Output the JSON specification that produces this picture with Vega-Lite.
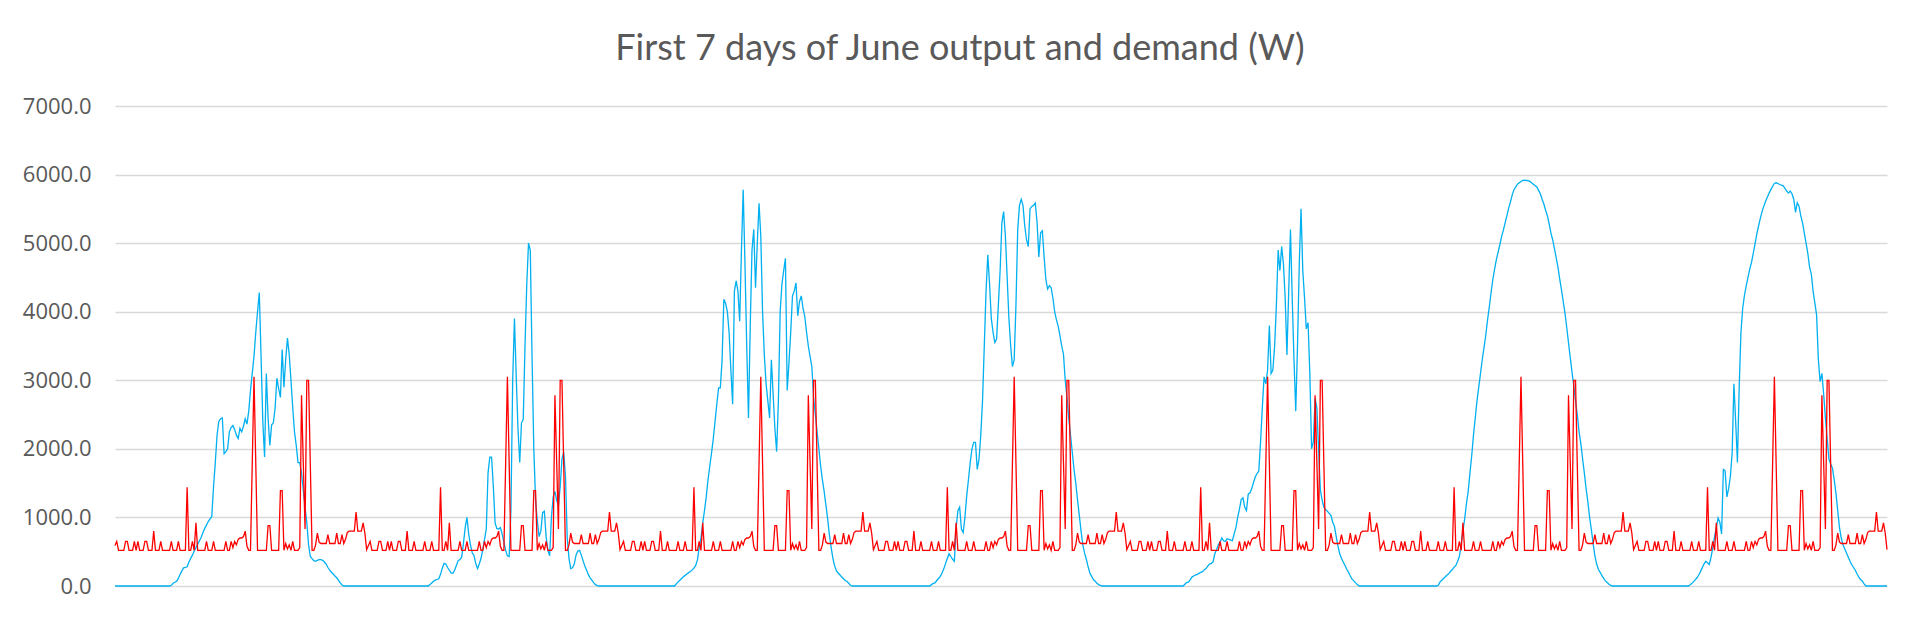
{
  "$schema": "https://vega.github.io/schema/vega-lite/v6.json",
  "width": 1772,
  "height": 480,
  "autosize": {"type": "none"},
  "padding": {"left": 115, "top": 106, "right": 33, "bottom": 33},
  "background": "white",
  "title": {
    "text": "First 7 days of June output and demand (W)",
    "font": "Lato",
    "fontSize": 36,
    "fontWeight": "normal",
    "color": "#595959",
    "anchor": "middle",
    "dx": -41,
    "offset": 27
  },
  "config": {
    "view": {"stroke": null},
    "axisY": {
      "domain": false,
      "ticks": false,
      "grid": true,
      "gridColor": "#d9d9d9",
      "gridWidth": 1.5,
      "labelFont": "Open Sans",
      "labelFontSize": 22,
      "labelColor": "#595959",
      "labelPadding": 24,
      "title": null
    }
  },
  "data": {
    "values": [
{"i":0,"o":0,"d":590},{"i":1,"o":0,"d":650},{"i":2,"o":0,"d":520},{"i":3,"o":0,"d":520},{"i":4,"o":0,"d":520},{"i":5,"o":0,"d":520},{"i":6,"o":0,"d":650},{"i":7,"o":0,"d":650},{"i":8,"o":0,"d":520},{"i":9,"o":0,"d":520},
{"i":10,"o":0,"d":520},{"i":11,"o":0,"d":650},{"i":12,"o":0,"d":520},{"i":13,"o":0,"d":650},{"i":14,"o":0,"d":520},{"i":15,"o":0,"d":520},{"i":16,"o":0,"d":520},{"i":17,"o":0,"d":650},{"i":18,"o":0,"d":650},{"i":19,"o":0,"d":520},
{"i":20,"o":0,"d":520},{"i":21,"o":0,"d":520},{"i":22,"o":0,"d":800},{"i":23,"o":0,"d":520},{"i":24,"o":0,"d":520},{"i":25,"o":0,"d":520},{"i":26,"o":0,"d":650},{"i":27,"o":0,"d":520},{"i":28,"o":0,"d":520},{"i":29,"o":0,"d":520},
{"i":30,"o":0,"d":520},{"i":31,"o":0,"d":520},{"i":32,"o":10,"d":650},{"i":33,"o":40,"d":520},{"i":34,"o":55,"d":520},{"i":35,"o":70,"d":520},{"i":36,"o":110,"d":650},{"i":37,"o":170,"d":520},{"i":38,"o":220,"d":520},{"i":39,"o":265,"d":520},
{"i":40,"o":270,"d":520},{"i":41,"o":280,"d":1440},{"i":42,"o":350,"d":520},{"i":43,"o":400,"d":520},{"i":44,"o":450,"d":650},{"i":45,"o":510,"d":520},{"i":46,"o":560,"d":920},{"i":47,"o":610,"d":520},{"i":48,"o":660,"d":520},{"i":49,"o":710,"d":520},
{"i":50,"o":780,"d":520},{"i":51,"o":840,"d":520},{"i":52,"o":890,"d":650},{"i":53,"o":940,"d":520},{"i":54,"o":980,"d":520},{"i":55,"o":1010,"d":520},{"i":56,"o":1450,"d":650},{"i":57,"o":1800,"d":520},{"i":58,"o":2200,"d":520},{"i":59,"o":2400,"d":520},
{"i":60,"o":2440,"d":520},{"i":61,"o":2450,"d":520},{"i":62,"o":1930,"d":520},{"i":63,"o":1960,"d":650},{"i":64,"o":2000,"d":520},{"i":65,"o":2250,"d":520},{"i":66,"o":2310,"d":650},{"i":67,"o":2340,"d":560},{"i":68,"o":2280,"d":650},{"i":69,"o":2200,"d":600},
{"i":70,"o":2150,"d":680},{"i":71,"o":2300,"d":700},{"i":72,"o":2250,"d":700},{"i":73,"o":2330,"d":720},{"i":74,"o":2440,"d":800},{"i":75,"o":2360,"d":580},{"i":76,"o":2550,"d":520},{"i":77,"o":2850,"d":520},{"i":78,"o":3100,"d":1790},{"i":79,"o":3350,"d":3050},
{"i":80,"o":3700,"d":1790},{"i":81,"o":4000,"d":520},{"i":82,"o":4280,"d":520},{"i":83,"o":3350,"d":520},{"i":84,"o":2400,"d":520},{"i":85,"o":1880,"d":520},{"i":86,"o":3100,"d":520},{"i":87,"o":2450,"d":880},{"i":88,"o":2050,"d":880},{"i":89,"o":2350,"d":520},
{"i":90,"o":2380,"d":520},{"i":91,"o":2600,"d":520},{"i":92,"o":3030,"d":520},{"i":93,"o":2880,"d":520},{"i":94,"o":2750,"d":1390},{"i":95,"o":3450,"d":1390},{"i":96,"o":2900,"d":520},{"i":97,"o":3300,"d":620},{"i":98,"o":3615,"d":540},{"i":99,"o":3380,"d":600},
{"i":100,"o":3000,"d":520},{"i":101,"o":2600,"d":650},{"i":102,"o":2250,"d":520},{"i":103,"o":2050,"d":520},{"i":104,"o":1800,"d":520},{"i":105,"o":1800,"d":560},{"i":106,"o":1650,"d":2780},{"i":107,"o":1400,"d":1800},{"i":108,"o":1150,"d":830},{"i":109,"o":925,"d":3000},
{"i":110,"o":600,"d":3000},{"i":111,"o":430,"d":1760},{"i":112,"o":400,"d":520},{"i":113,"o":370,"d":520},{"i":114,"o":360,"d":600},{"i":115,"o":375,"d":770},{"i":116,"o":385,"d":640},{"i":117,"o":385,"d":620},{"i":118,"o":375,"d":620},{"i":119,"o":350,"d":620},
{"i":120,"o":320,"d":620},{"i":121,"o":270,"d":750},{"i":122,"o":230,"d":620},{"i":123,"o":200,"d":620},{"i":124,"o":175,"d":620},{"i":125,"o":145,"d":620},{"i":126,"o":120,"d":770},{"i":127,"o":85,"d":620},{"i":128,"o":45,"d":620},{"i":129,"o":15,"d":750},
{"i":130,"o":0,"d":620},{"i":131,"o":0,"d":680},{"i":132,"o":0,"d":780},{"i":133,"o":0,"d":800},{"i":134,"o":0,"d":800},{"i":135,"o":0,"d":800},{"i":136,"o":0,"d":800},{"i":137,"o":0,"d":1080},{"i":138,"o":0,"d":800},{"i":139,"o":0,"d":800},
{"i":140,"o":0,"d":800},{"i":141,"o":0,"d":920},{"i":142,"o":0,"d":770},{"i":143,"o":0,"d":530},
{"i":144,"o":0,"d":590},{"i":145,"o":0,"d":650},{"i":146,"o":0,"d":520},{"i":147,"o":0,"d":520},{"i":148,"o":0,"d":520},{"i":149,"o":0,"d":520},{"i":150,"o":0,"d":650},{"i":151,"o":0,"d":650},{"i":152,"o":0,"d":520},{"i":153,"o":0,"d":520},
{"i":154,"o":0,"d":520},{"i":155,"o":0,"d":650},{"i":156,"o":0,"d":520},{"i":157,"o":0,"d":650},{"i":158,"o":0,"d":520},{"i":159,"o":0,"d":520},{"i":160,"o":0,"d":520},{"i":161,"o":0,"d":650},{"i":162,"o":0,"d":650},{"i":163,"o":0,"d":520},
{"i":164,"o":0,"d":520},{"i":165,"o":0,"d":520},{"i":166,"o":0,"d":800},{"i":167,"o":0,"d":520},{"i":168,"o":0,"d":520},{"i":169,"o":0,"d":520},{"i":170,"o":0,"d":650},{"i":171,"o":0,"d":520},{"i":172,"o":0,"d":520},{"i":173,"o":0,"d":520},
{"i":174,"o":0,"d":520},{"i":175,"o":0,"d":520},{"i":176,"o":0,"d":650},{"i":177,"o":0,"d":520},{"i":178,"o":0,"d":520},{"i":179,"o":20,"d":520},{"i":180,"o":45,"d":650},{"i":181,"o":70,"d":520},{"i":182,"o":85,"d":520},{"i":183,"o":95,"d":520},
{"i":184,"o":105,"d":520},{"i":185,"o":170,"d":1440},{"i":186,"o":260,"d":520},{"i":187,"o":330,"d":520},{"i":188,"o":320,"d":650},{"i":189,"o":270,"d":520},{"i":190,"o":230,"d":920},{"i":191,"o":190,"d":520},{"i":192,"o":185,"d":520},{"i":193,"o":230,"d":520},
{"i":194,"o":300,"d":520},{"i":195,"o":370,"d":520},{"i":196,"o":385,"d":650},{"i":197,"o":420,"d":520},{"i":198,"o":620,"d":520},{"i":199,"o":850,"d":520},{"i":200,"o":1000,"d":650},{"i":201,"o":760,"d":520},{"i":202,"o":600,"d":520},{"i":203,"o":485,"d":520},
{"i":204,"o":445,"d":520},{"i":205,"o":330,"d":520},{"i":206,"o":255,"d":520},{"i":207,"o":320,"d":650},{"i":208,"o":400,"d":520},{"i":209,"o":530,"d":520},{"i":210,"o":680,"d":650},{"i":211,"o":830,"d":560},{"i":212,"o":1650,"d":650},{"i":213,"o":1880,"d":600},
{"i":214,"o":1880,"d":680},{"i":215,"o":1450,"d":700},{"i":216,"o":920,"d":700},{"i":217,"o":840,"d":720},{"i":218,"o":830,"d":800},{"i":219,"o":850,"d":580},{"i":220,"o":760,"d":520},{"i":221,"o":640,"d":520},{"i":222,"o":520,"d":1790},{"i":223,"o":440,"d":3050},
{"i":224,"o":430,"d":1790},{"i":225,"o":1100,"d":520},{"i":226,"o":3000,"d":520},{"i":227,"o":3900,"d":520},{"i":228,"o":3060,"d":520},{"i":229,"o":2300,"d":520},{"i":230,"o":1800,"d":520},{"i":231,"o":2380,"d":880},{"i":232,"o":2430,"d":880},{"i":233,"o":3500,"d":520},
{"i":234,"o":4400,"d":520},{"i":235,"o":5000,"d":520},{"i":236,"o":4900,"d":520},{"i":237,"o":3350,"d":520},{"i":238,"o":2000,"d":1390},{"i":239,"o":1250,"d":1390},{"i":240,"o":950,"d":520},{"i":241,"o":720,"d":620},{"i":242,"o":800,"d":540},{"i":243,"o":1070,"d":600},
{"i":244,"o":1090,"d":520},{"i":245,"o":720,"d":650},{"i":246,"o":520,"d":520},{"i":247,"o":440,"d":520},{"i":248,"o":1000,"d":520},{"i":249,"o":1300,"d":560},{"i":250,"o":1380,"d":2780},{"i":251,"o":1250,"d":1800},{"i":252,"o":1170,"d":830},{"i":253,"o":1450,"d":3000},
{"i":254,"o":1850,"d":3000},{"i":255,"o":1950,"d":1760},{"i":256,"o":1600,"d":520},{"i":257,"o":700,"d":520},{"i":258,"o":400,"d":600},{"i":259,"o":255,"d":770},{"i":260,"o":265,"d":640},{"i":261,"o":320,"d":620},{"i":262,"o":450,"d":620},{"i":263,"o":510,"d":620},
{"i":264,"o":520,"d":620},{"i":265,"o":450,"d":750},{"i":266,"o":370,"d":620},{"i":267,"o":290,"d":620},{"i":268,"o":230,"d":620},{"i":269,"o":165,"d":620},{"i":270,"o":120,"d":770},{"i":271,"o":85,"d":620},{"i":272,"o":50,"d":620},{"i":273,"o":20,"d":750},
{"i":274,"o":5,"d":620},{"i":275,"o":0,"d":680},{"i":276,"o":0,"d":780},{"i":277,"o":0,"d":800},{"i":278,"o":0,"d":800},{"i":279,"o":0,"d":800},{"i":280,"o":0,"d":800},{"i":281,"o":0,"d":1080},{"i":282,"o":0,"d":800},{"i":283,"o":0,"d":800},
{"i":284,"o":0,"d":800},{"i":285,"o":0,"d":920},{"i":286,"o":0,"d":770},{"i":287,"o":0,"d":530},
{"i":288,"o":0,"d":590},{"i":289,"o":0,"d":650},{"i":290,"o":0,"d":520},{"i":291,"o":0,"d":520},{"i":292,"o":0,"d":520},{"i":293,"o":0,"d":520},{"i":294,"o":0,"d":650},{"i":295,"o":0,"d":650},{"i":296,"o":0,"d":520},{"i":297,"o":0,"d":520},
{"i":298,"o":0,"d":520},{"i":299,"o":0,"d":650},{"i":300,"o":0,"d":520},{"i":301,"o":0,"d":650},{"i":302,"o":0,"d":520},{"i":303,"o":0,"d":520},{"i":304,"o":0,"d":520},{"i":305,"o":0,"d":650},{"i":306,"o":0,"d":650},{"i":307,"o":0,"d":520},
{"i":308,"o":0,"d":520},{"i":309,"o":0,"d":520},{"i":310,"o":0,"d":800},{"i":311,"o":0,"d":520},{"i":312,"o":0,"d":520},{"i":313,"o":0,"d":520},{"i":314,"o":0,"d":650},{"i":315,"o":0,"d":520},{"i":316,"o":0,"d":520},{"i":317,"o":0,"d":520},
{"i":318,"o":0,"d":520},{"i":319,"o":30,"d":520},{"i":320,"o":60,"d":650},{"i":321,"o":85,"d":520},{"i":322,"o":110,"d":520},{"i":323,"o":135,"d":520},{"i":324,"o":155,"d":650},{"i":325,"o":175,"d":520},{"i":326,"o":195,"d":520},{"i":327,"o":210,"d":520},
{"i":328,"o":235,"d":520},{"i":329,"o":260,"d":1440},{"i":330,"o":300,"d":520},{"i":331,"o":380,"d":520},{"i":332,"o":560,"d":650},{"i":333,"o":700,"d":520},{"i":334,"o":920,"d":920},{"i":335,"o":1100,"d":520},{"i":336,"o":1300,"d":520},{"i":337,"o":1550,"d":520},
{"i":338,"o":1750,"d":520},{"i":339,"o":1940,"d":520},{"i":340,"o":2150,"d":650},{"i":341,"o":2400,"d":520},{"i":342,"o":2650,"d":520},{"i":343,"o":2890,"d":520},{"i":344,"o":2890,"d":650},{"i":345,"o":3300,"d":520},{"i":346,"o":4180,"d":520},{"i":347,"o":4120,"d":520},
{"i":348,"o":4000,"d":520},{"i":349,"o":3690,"d":520},{"i":350,"o":3150,"d":520},{"i":351,"o":2650,"d":650},{"i":352,"o":4300,"d":520},{"i":353,"o":4450,"d":520},{"i":354,"o":4300,"d":650},{"i":355,"o":3860,"d":560},{"i":356,"o":4900,"d":650},{"i":357,"o":5780,"d":600},
{"i":358,"o":4700,"d":680},{"i":359,"o":3500,"d":700},{"i":360,"o":2450,"d":700},{"i":361,"o":3800,"d":720},{"i":362,"o":4900,"d":800},{"i":363,"o":5200,"d":580},{"i":364,"o":4350,"d":520},{"i":365,"o":5000,"d":520},{"i":366,"o":5580,"d":1790},{"i":367,"o":5100,"d":3050},
{"i":368,"o":4000,"d":1790},{"i":369,"o":3370,"d":520},{"i":370,"o":2950,"d":520},{"i":371,"o":2700,"d":520},{"i":372,"o":2450,"d":520},{"i":373,"o":3300,"d":520},{"i":374,"o":2800,"d":520},{"i":375,"o":2300,"d":880},{"i":376,"o":1960,"d":880},{"i":377,"o":2700,"d":520},
{"i":378,"o":4000,"d":520},{"i":379,"o":4400,"d":520},{"i":380,"o":4600,"d":520},{"i":381,"o":4780,"d":520},{"i":382,"o":2850,"d":1390},{"i":383,"o":3250,"d":1390},{"i":384,"o":3700,"d":520},{"i":385,"o":4230,"d":620},{"i":386,"o":4300,"d":540},{"i":387,"o":4420,"d":600},
{"i":388,"o":3940,"d":520},{"i":389,"o":4150,"d":650},{"i":390,"o":4230,"d":520},{"i":391,"o":4050,"d":520},{"i":392,"o":3930,"d":520},{"i":393,"o":3700,"d":560},{"i":394,"o":3500,"d":2780},{"i":395,"o":3350,"d":1800},{"i":396,"o":3200,"d":830},{"i":397,"o":2750,"d":3000},
{"i":398,"o":2500,"d":3000},{"i":399,"o":2250,"d":1760},{"i":400,"o":2000,"d":520},{"i":401,"o":1750,"d":520},{"i":402,"o":1550,"d":600},{"i":403,"o":1380,"d":770},{"i":404,"o":1180,"d":640},{"i":405,"o":980,"d":620},{"i":406,"o":740,"d":620},{"i":407,"o":560,"d":620},
{"i":408,"o":400,"d":620},{"i":409,"o":290,"d":750},{"i":410,"o":220,"d":620},{"i":411,"o":190,"d":620},{"i":412,"o":160,"d":620},{"i":413,"o":130,"d":620},{"i":414,"o":105,"d":770},{"i":415,"o":80,"d":620},{"i":416,"o":65,"d":620},{"i":417,"o":40,"d":750},
{"i":418,"o":10,"d":620},{"i":419,"o":0,"d":680},{"i":420,"o":0,"d":780},{"i":421,"o":0,"d":800},{"i":422,"o":0,"d":800},{"i":423,"o":0,"d":800},{"i":424,"o":0,"d":800},{"i":425,"o":0,"d":1080},{"i":426,"o":0,"d":800},{"i":427,"o":0,"d":800},
{"i":428,"o":0,"d":800},{"i":429,"o":0,"d":920},{"i":430,"o":0,"d":770},{"i":431,"o":0,"d":530},
{"i":432,"o":0,"d":590},{"i":433,"o":0,"d":650},{"i":434,"o":0,"d":520},{"i":435,"o":0,"d":520},{"i":436,"o":0,"d":520},{"i":437,"o":0,"d":520},{"i":438,"o":0,"d":650},{"i":439,"o":0,"d":650},{"i":440,"o":0,"d":520},{"i":441,"o":0,"d":520},
{"i":442,"o":0,"d":520},{"i":443,"o":0,"d":650},{"i":444,"o":0,"d":520},{"i":445,"o":0,"d":650},{"i":446,"o":0,"d":520},{"i":447,"o":0,"d":520},{"i":448,"o":0,"d":520},{"i":449,"o":0,"d":650},{"i":450,"o":0,"d":650},{"i":451,"o":0,"d":520},
{"i":452,"o":0,"d":520},{"i":453,"o":0,"d":520},{"i":454,"o":0,"d":800},{"i":455,"o":0,"d":520},{"i":456,"o":0,"d":520},{"i":457,"o":0,"d":520},{"i":458,"o":0,"d":650},{"i":459,"o":0,"d":520},{"i":460,"o":0,"d":520},{"i":461,"o":0,"d":520},
{"i":462,"o":0,"d":520},{"i":463,"o":0,"d":520},{"i":464,"o":20,"d":650},{"i":465,"o":40,"d":520},{"i":466,"o":45,"d":520},{"i":467,"o":80,"d":520},{"i":468,"o":110,"d":650},{"i":469,"o":140,"d":520},{"i":470,"o":190,"d":520},{"i":471,"o":250,"d":520},
{"i":472,"o":330,"d":520},{"i":473,"o":400,"d":1440},{"i":474,"o":470,"d":520},{"i":475,"o":430,"d":520},{"i":476,"o":390,"d":650},{"i":477,"o":360,"d":520},{"i":478,"o":850,"d":920},{"i":479,"o":1100,"d":520},{"i":480,"o":1150,"d":520},{"i":481,"o":830,"d":520},
{"i":482,"o":780,"d":520},{"i":483,"o":1000,"d":520},{"i":484,"o":1310,"d":650},{"i":485,"o":1550,"d":520},{"i":486,"o":1800,"d":520},{"i":487,"o":2000,"d":520},{"i":488,"o":2095,"d":650},{"i":489,"o":2095,"d":520},{"i":490,"o":1700,"d":520},{"i":491,"o":1850,"d":520},
{"i":492,"o":2200,"d":520},{"i":493,"o":2700,"d":520},{"i":494,"o":3500,"d":520},{"i":495,"o":4300,"d":650},{"i":496,"o":4830,"d":520},{"i":497,"o":4400,"d":520},{"i":498,"o":3900,"d":650},{"i":499,"o":3700,"d":560},{"i":500,"o":3550,"d":650},{"i":501,"o":3600,"d":600},
{"i":502,"o":4100,"d":680},{"i":503,"o":4600,"d":700},{"i":504,"o":5300,"d":700},{"i":505,"o":5460,"d":720},{"i":506,"o":5100,"d":800},{"i":507,"o":4500,"d":580},{"i":508,"o":3900,"d":520},{"i":509,"o":3500,"d":520},{"i":510,"o":3200,"d":1790},{"i":511,"o":3300,"d":3050},
{"i":512,"o":4100,"d":1790},{"i":513,"o":5200,"d":520},{"i":514,"o":5550,"d":520},{"i":515,"o":5640,"d":520},{"i":516,"o":5550,"d":520},{"i":517,"o":5250,"d":520},{"i":518,"o":5050,"d":520},{"i":519,"o":4950,"d":880},{"i":520,"o":5500,"d":880},{"i":521,"o":5535,"d":520},
{"i":522,"o":5550,"d":520},{"i":523,"o":5585,"d":520},{"i":524,"o":5300,"d":520},{"i":525,"o":4800,"d":520},{"i":526,"o":5150,"d":1390},{"i":527,"o":5180,"d":1390},{"i":528,"o":4800,"d":520},{"i":529,"o":4470,"d":620},{"i":530,"o":4330,"d":540},{"i":531,"o":4380,"d":600},
{"i":532,"o":4350,"d":520},{"i":533,"o":4200,"d":650},{"i":534,"o":4000,"d":520},{"i":535,"o":3880,"d":520},{"i":536,"o":3790,"d":520},{"i":537,"o":3650,"d":560},{"i":538,"o":3500,"d":2780},{"i":539,"o":3380,"d":1800},{"i":540,"o":3000,"d":830},{"i":541,"o":2750,"d":3000},
{"i":542,"o":2450,"d":3000},{"i":543,"o":2200,"d":1760},{"i":544,"o":1950,"d":520},{"i":545,"o":1700,"d":520},{"i":546,"o":1500,"d":600},{"i":547,"o":1250,"d":770},{"i":548,"o":1030,"d":640},{"i":549,"o":800,"d":620},{"i":550,"o":600,"d":620},{"i":551,"o":480,"d":620},
{"i":552,"o":390,"d":620},{"i":553,"o":280,"d":750},{"i":554,"o":190,"d":620},{"i":555,"o":140,"d":620},{"i":556,"o":95,"d":620},{"i":557,"o":70,"d":620},{"i":558,"o":40,"d":770},{"i":559,"o":20,"d":620},{"i":560,"o":10,"d":620},{"i":561,"o":0,"d":750},
{"i":562,"o":0,"d":620},{"i":563,"o":0,"d":680},{"i":564,"o":0,"d":780},{"i":565,"o":0,"d":800},{"i":566,"o":0,"d":800},{"i":567,"o":0,"d":800},{"i":568,"o":0,"d":800},{"i":569,"o":0,"d":1080},{"i":570,"o":0,"d":800},{"i":571,"o":0,"d":800},
{"i":572,"o":0,"d":800},{"i":573,"o":0,"d":920},{"i":574,"o":0,"d":770},{"i":575,"o":0,"d":530},
{"i":576,"o":0,"d":590},{"i":577,"o":0,"d":650},{"i":578,"o":0,"d":520},{"i":579,"o":0,"d":520},{"i":580,"o":0,"d":520},{"i":581,"o":0,"d":520},{"i":582,"o":0,"d":650},{"i":583,"o":0,"d":650},{"i":584,"o":0,"d":520},{"i":585,"o":0,"d":520},
{"i":586,"o":0,"d":520},{"i":587,"o":0,"d":650},{"i":588,"o":0,"d":520},{"i":589,"o":0,"d":650},{"i":590,"o":0,"d":520},{"i":591,"o":0,"d":520},{"i":592,"o":0,"d":520},{"i":593,"o":0,"d":650},{"i":594,"o":0,"d":650},{"i":595,"o":0,"d":520},
{"i":596,"o":0,"d":520},{"i":597,"o":0,"d":520},{"i":598,"o":0,"d":800},{"i":599,"o":0,"d":520},{"i":600,"o":0,"d":520},{"i":601,"o":0,"d":520},{"i":602,"o":0,"d":650},{"i":603,"o":0,"d":520},{"i":604,"o":0,"d":520},{"i":605,"o":0,"d":520},
{"i":606,"o":0,"d":520},{"i":607,"o":0,"d":520},{"i":608,"o":25,"d":650},{"i":609,"o":50,"d":520},{"i":610,"o":55,"d":520},{"i":611,"o":90,"d":520},{"i":612,"o":130,"d":650},{"i":613,"o":145,"d":520},{"i":614,"o":160,"d":520},{"i":615,"o":170,"d":520},
{"i":616,"o":185,"d":520},{"i":617,"o":200,"d":1440},{"i":618,"o":210,"d":520},{"i":619,"o":235,"d":520},{"i":620,"o":255,"d":650},{"i":621,"o":290,"d":520},{"i":622,"o":320,"d":920},{"i":623,"o":330,"d":520},{"i":624,"o":350,"d":520},{"i":625,"o":470,"d":520},
{"i":626,"o":530,"d":520},{"i":627,"o":600,"d":520},{"i":628,"o":640,"d":650},{"i":629,"o":700,"d":520},{"i":630,"o":660,"d":520},{"i":631,"o":650,"d":520},{"i":632,"o":690,"d":650},{"i":633,"o":680,"d":520},{"i":634,"o":670,"d":520},{"i":635,"o":660,"d":520},
{"i":636,"o":760,"d":520},{"i":637,"o":850,"d":520},{"i":638,"o":1000,"d":520},{"i":639,"o":1120,"d":650},{"i":640,"o":1260,"d":520},{"i":641,"o":1285,"d":520},{"i":642,"o":1150,"d":650},{"i":643,"o":1100,"d":560},{"i":644,"o":1340,"d":650},{"i":645,"o":1360,"d":600},
{"i":646,"o":1420,"d":680},{"i":647,"o":1510,"d":700},{"i":648,"o":1590,"d":700},{"i":649,"o":1640,"d":720},{"i":650,"o":1675,"d":800},{"i":651,"o":2100,"d":580},{"i":652,"o":2600,"d":520},{"i":653,"o":3050,"d":520},{"i":654,"o":2950,"d":1790},{"i":655,"o":3150,"d":3050},
{"i":656,"o":3800,"d":1790},{"i":657,"o":3100,"d":520},{"i":658,"o":3150,"d":520},{"i":659,"o":3500,"d":520},{"i":660,"o":4100,"d":520},{"i":661,"o":4900,"d":520},{"i":662,"o":4600,"d":520},{"i":663,"o":4950,"d":880},{"i":664,"o":4700,"d":880},{"i":665,"o":4200,"d":520},
{"i":666,"o":3370,"d":520},{"i":667,"o":4300,"d":520},{"i":668,"o":5200,"d":520},{"i":669,"o":4200,"d":520},{"i":670,"o":3300,"d":1390},{"i":671,"o":2550,"d":1390},{"i":672,"o":3500,"d":520},{"i":673,"o":4700,"d":620},{"i":674,"o":5500,"d":540},{"i":675,"o":4600,"d":600},
{"i":676,"o":4200,"d":520},{"i":677,"o":3750,"d":650},{"i":678,"o":3840,"d":520},{"i":679,"o":3100,"d":520},{"i":680,"o":2000,"d":520},{"i":681,"o":2100,"d":560},{"i":682,"o":2740,"d":2780},{"i":683,"o":2600,"d":1800},{"i":684,"o":1985,"d":830},{"i":685,"o":1400,"d":3000},
{"i":686,"o":1250,"d":3000},{"i":687,"o":1150,"d":1760},{"i":688,"o":1110,"d":520},{"i":689,"o":1090,"d":520},{"i":690,"o":1060,"d":600},{"i":691,"o":1030,"d":770},{"i":692,"o":930,"d":640},{"i":693,"o":870,"d":620},{"i":694,"o":720,"d":620},{"i":695,"o":580,"d":620},
{"i":696,"o":470,"d":620},{"i":697,"o":400,"d":750},{"i":698,"o":350,"d":620},{"i":699,"o":300,"d":620},{"i":700,"o":245,"d":620},{"i":701,"o":200,"d":620},{"i":702,"o":145,"d":770},{"i":703,"o":100,"d":620},{"i":704,"o":75,"d":620},{"i":705,"o":45,"d":750},
{"i":706,"o":20,"d":620},{"i":707,"o":0,"d":680},{"i":708,"o":0,"d":780},{"i":709,"o":0,"d":800},{"i":710,"o":0,"d":800},{"i":711,"o":0,"d":800},{"i":712,"o":0,"d":800},{"i":713,"o":0,"d":1080},{"i":714,"o":0,"d":800},{"i":715,"o":0,"d":800},
{"i":716,"o":0,"d":800},{"i":717,"o":0,"d":920},{"i":718,"o":0,"d":770},{"i":719,"o":0,"d":530},
{"i":720,"o":0,"d":590},{"i":721,"o":0,"d":650},{"i":722,"o":0,"d":520},{"i":723,"o":0,"d":520},{"i":724,"o":0,"d":520},{"i":725,"o":0,"d":520},{"i":726,"o":0,"d":650},{"i":727,"o":0,"d":650},{"i":728,"o":0,"d":520},{"i":729,"o":0,"d":520},
{"i":730,"o":0,"d":520},{"i":731,"o":0,"d":650},{"i":732,"o":0,"d":520},{"i":733,"o":0,"d":650},{"i":734,"o":0,"d":520},{"i":735,"o":0,"d":520},{"i":736,"o":0,"d":520},{"i":737,"o":0,"d":650},{"i":738,"o":0,"d":650},{"i":739,"o":0,"d":520},
{"i":740,"o":0,"d":520},{"i":741,"o":0,"d":520},{"i":742,"o":0,"d":800},{"i":743,"o":0,"d":520},{"i":744,"o":0,"d":520},{"i":745,"o":0,"d":520},{"i":746,"o":0,"d":650},{"i":747,"o":0,"d":520},{"i":748,"o":0,"d":520},{"i":749,"o":0,"d":520},
{"i":750,"o":0,"d":520},{"i":751,"o":0,"d":520},{"i":752,"o":10,"d":650},{"i":753,"o":60,"d":520},{"i":754,"o":85,"d":520},{"i":755,"o":110,"d":520},{"i":756,"o":135,"d":650},{"i":757,"o":160,"d":520},{"i":758,"o":180,"d":520},{"i":759,"o":215,"d":520},
{"i":760,"o":240,"d":520},{"i":761,"o":275,"d":1440},{"i":762,"o":300,"d":520},{"i":763,"o":360,"d":520},{"i":764,"o":430,"d":650},{"i":765,"o":600,"d":520},{"i":766,"o":800,"d":920},{"i":767,"o":980,"d":520},{"i":768,"o":1200,"d":520},{"i":769,"o":1380,"d":520},
{"i":770,"o":1650,"d":520},{"i":771,"o":1900,"d":520},{"i":772,"o":2200,"d":650},{"i":773,"o":2450,"d":520},{"i":774,"o":2700,"d":520},{"i":775,"o":2900,"d":520},{"i":776,"o":3100,"d":650},{"i":777,"o":3300,"d":520},{"i":778,"o":3480,"d":520},{"i":779,"o":3660,"d":520},
{"i":780,"o":3880,"d":520},{"i":781,"o":4070,"d":520},{"i":782,"o":4280,"d":520},{"i":783,"o":4470,"d":650},{"i":784,"o":4620,"d":520},{"i":785,"o":4760,"d":520},{"i":786,"o":4870,"d":650},{"i":787,"o":4980,"d":560},{"i":788,"o":5100,"d":650},{"i":789,"o":5190,"d":600},
{"i":790,"o":5300,"d":680},{"i":791,"o":5400,"d":700},{"i":792,"o":5510,"d":700},{"i":793,"o":5600,"d":720},{"i":794,"o":5700,"d":800},{"i":795,"o":5780,"d":580},{"i":796,"o":5820,"d":520},{"i":797,"o":5860,"d":520},{"i":798,"o":5880,"d":1790},{"i":799,"o":5900,"d":3050},
{"i":800,"o":5915,"d":1790},{"i":801,"o":5920,"d":520},{"i":802,"o":5915,"d":520},{"i":803,"o":5910,"d":520},{"i":804,"o":5900,"d":520},{"i":805,"o":5880,"d":520},{"i":806,"o":5860,"d":520},{"i":807,"o":5840,"d":880},{"i":808,"o":5820,"d":880},{"i":809,"o":5770,"d":520},
{"i":810,"o":5720,"d":520},{"i":811,"o":5640,"d":520},{"i":812,"o":5570,"d":520},{"i":813,"o":5480,"d":520},{"i":814,"o":5400,"d":1390},{"i":815,"o":5280,"d":1390},{"i":816,"o":5150,"d":520},{"i":817,"o":5050,"d":620},{"i":818,"o":4920,"d":540},{"i":819,"o":4790,"d":600},
{"i":820,"o":4650,"d":520},{"i":821,"o":4480,"d":650},{"i":822,"o":4320,"d":520},{"i":823,"o":4150,"d":520},{"i":824,"o":3980,"d":520},{"i":825,"o":3770,"d":560},{"i":826,"o":3550,"d":2780},{"i":827,"o":3330,"d":1800},{"i":828,"o":3120,"d":830},{"i":829,"o":2920,"d":3000},
{"i":830,"o":2700,"d":3000},{"i":831,"o":2500,"d":1760},{"i":832,"o":2250,"d":520},{"i":833,"o":2080,"d":520},{"i":834,"o":1860,"d":600},{"i":835,"o":1650,"d":770},{"i":836,"o":1420,"d":640},{"i":837,"o":1230,"d":620},{"i":838,"o":1000,"d":620},{"i":839,"o":820,"d":620},
{"i":840,"o":620,"d":620},{"i":841,"o":440,"d":750},{"i":842,"o":320,"d":620},{"i":843,"o":240,"d":620},{"i":844,"o":200,"d":620},{"i":845,"o":150,"d":620},{"i":846,"o":110,"d":770},{"i":847,"o":75,"d":620},{"i":848,"o":50,"d":620},{"i":849,"o":25,"d":750},
{"i":850,"o":10,"d":620},{"i":851,"o":0,"d":680},{"i":852,"o":0,"d":780},{"i":853,"o":0,"d":800},{"i":854,"o":0,"d":800},{"i":855,"o":0,"d":800},{"i":856,"o":0,"d":800},{"i":857,"o":0,"d":1080},{"i":858,"o":0,"d":800},{"i":859,"o":0,"d":800},
{"i":860,"o":0,"d":800},{"i":861,"o":0,"d":920},{"i":862,"o":0,"d":770},{"i":863,"o":0,"d":530},
{"i":864,"o":0,"d":590},{"i":865,"o":0,"d":650},{"i":866,"o":0,"d":520},{"i":867,"o":0,"d":520},{"i":868,"o":0,"d":520},{"i":869,"o":0,"d":520},{"i":870,"o":0,"d":650},{"i":871,"o":0,"d":650},{"i":872,"o":0,"d":520},{"i":873,"o":0,"d":520},
{"i":874,"o":0,"d":520},{"i":875,"o":0,"d":650},{"i":876,"o":0,"d":520},{"i":877,"o":0,"d":650},{"i":878,"o":0,"d":520},{"i":879,"o":0,"d":520},{"i":880,"o":0,"d":520},{"i":881,"o":0,"d":650},{"i":882,"o":0,"d":650},{"i":883,"o":0,"d":520},
{"i":884,"o":0,"d":520},{"i":885,"o":0,"d":520},{"i":886,"o":0,"d":800},{"i":887,"o":0,"d":520},{"i":888,"o":0,"d":520},{"i":889,"o":0,"d":520},{"i":890,"o":0,"d":650},{"i":891,"o":0,"d":520},{"i":892,"o":0,"d":520},{"i":893,"o":0,"d":520},
{"i":894,"o":0,"d":520},{"i":895,"o":15,"d":520},{"i":896,"o":35,"d":650},{"i":897,"o":60,"d":520},{"i":898,"o":90,"d":520},{"i":899,"o":120,"d":520},{"i":900,"o":160,"d":650},{"i":901,"o":210,"d":520},{"i":902,"o":265,"d":520},{"i":903,"o":320,"d":520},
{"i":904,"o":360,"d":520},{"i":905,"o":340,"d":1440},{"i":906,"o":315,"d":520},{"i":907,"o":420,"d":520},{"i":908,"o":560,"d":650},{"i":909,"o":720,"d":520},{"i":910,"o":850,"d":920},{"i":911,"o":990,"d":520},{"i":912,"o":930,"d":520},{"i":913,"o":760,"d":520},
{"i":914,"o":1700,"d":520},{"i":915,"o":1680,"d":520},{"i":916,"o":1300,"d":650},{"i":917,"o":1420,"d":520},{"i":918,"o":1600,"d":520},{"i":919,"o":1940,"d":520},{"i":920,"o":2950,"d":650},{"i":921,"o":2400,"d":520},{"i":922,"o":1800,"d":520},{"i":923,"o":2900,"d":520},
{"i":924,"o":3700,"d":520},{"i":925,"o":4050,"d":520},{"i":926,"o":4240,"d":520},{"i":927,"o":4380,"d":650},{"i":928,"o":4500,"d":520},{"i":929,"o":4620,"d":520},{"i":930,"o":4720,"d":650},{"i":931,"o":4850,"d":560},{"i":932,"o":4990,"d":650},{"i":933,"o":5130,"d":600},
{"i":934,"o":5250,"d":680},{"i":935,"o":5360,"d":700},{"i":936,"o":5460,"d":700},{"i":937,"o":5540,"d":720},{"i":938,"o":5610,"d":800},{"i":939,"o":5670,"d":580},{"i":940,"o":5730,"d":520},{"i":941,"o":5780,"d":520},{"i":942,"o":5830,"d":1790},{"i":943,"o":5870,"d":3050},
{"i":944,"o":5880,"d":1790},{"i":945,"o":5870,"d":520},{"i":946,"o":5855,"d":520},{"i":947,"o":5845,"d":520},{"i":948,"o":5835,"d":520},{"i":949,"o":5800,"d":520},{"i":950,"o":5760,"d":520},{"i":951,"o":5730,"d":880},{"i":952,"o":5760,"d":880},{"i":953,"o":5720,"d":520},
{"i":954,"o":5640,"d":520},{"i":955,"o":5450,"d":520},{"i":956,"o":5590,"d":520},{"i":957,"o":5540,"d":520},{"i":958,"o":5400,"d":1390},{"i":959,"o":5295,"d":1390},{"i":960,"o":5150,"d":520},{"i":961,"o":5000,"d":620},{"i":962,"o":4850,"d":540},{"i":963,"o":4650,"d":600},
{"i":964,"o":4550,"d":520},{"i":965,"o":4300,"d":650},{"i":966,"o":4130,"d":520},{"i":967,"o":3950,"d":520},{"i":968,"o":3300,"d":520},{"i":969,"o":2980,"d":560},{"i":970,"o":3100,"d":2780},{"i":971,"o":2800,"d":1800},{"i":972,"o":2450,"d":830},{"i":973,"o":2150,"d":3000},
{"i":974,"o":1850,"d":3000},{"i":975,"o":1780,"d":1760},{"i":976,"o":1720,"d":520},{"i":977,"o":1550,"d":520},{"i":978,"o":1350,"d":600},{"i":979,"o":1100,"d":770},{"i":980,"o":850,"d":640},{"i":981,"o":700,"d":620},{"i":982,"o":600,"d":620},{"i":983,"o":540,"d":620},
{"i":984,"o":480,"d":620},{"i":985,"o":420,"d":750},{"i":986,"o":360,"d":620},{"i":987,"o":310,"d":620},{"i":988,"o":270,"d":620},{"i":989,"o":230,"d":620},{"i":990,"o":175,"d":770},{"i":991,"o":130,"d":620},{"i":992,"o":95,"d":620},{"i":993,"o":70,"d":750},
{"i":994,"o":30,"d":620},{"i":995,"o":0,"d":680},{"i":996,"o":0,"d":780},{"i":997,"o":0,"d":800},{"i":998,"o":0,"d":800},{"i":999,"o":0,"d":800},{"i":1000,"o":0,"d":800},{"i":1001,"o":0,"d":1080},{"i":1002,"o":0,"d":800},{"i":1003,"o":0,"d":800},
{"i":1004,"o":0,"d":800},{"i":1005,"o":0,"d":920},{"i":1006,"o":0,"d":770},{"i":1007,"o":0,"d":530}
    ]
  },
  "encoding": {
    "x": {
      "field": "i",
      "type": "quantitative",
      "scale": {"domain": [0, 1007], "nice": false, "zero": false},
      "axis": null
    }
  },
  "layer": [
    {
      "mark": {"type": "line", "color": "#00B0F0", "strokeWidth": 1.3, "interpolate": "linear"},
      "encoding": {
        "y": {
          "field": "o",
          "type": "quantitative",
          "scale": {"domain": [0, 7000], "nice": false},
          "axis": {"values": [0, 1000, 2000, 3000, 4000, 5000, 6000, 7000], "format": ".1f"},
          "title": null
        }
      }
    },
    {
      "mark": {"type": "line", "color": "#FF0000", "strokeWidth": 1.3, "interpolate": "linear"},
      "encoding": {
        "y": {
          "field": "d",
          "type": "quantitative",
          "scale": {"domain": [0, 7000], "nice": false},
          "axis": {"values": [0, 1000, 2000, 3000, 4000, 5000, 6000, 7000], "format": ".1f"},
          "title": null
        }
      }
    }
  ]
}
